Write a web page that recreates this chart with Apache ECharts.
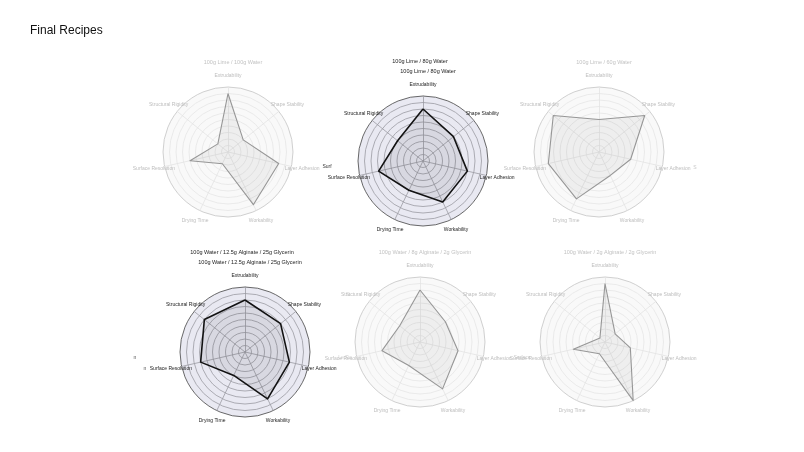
<!DOCTYPE html>
<html>
<head>
<meta charset="utf-8">
<script src="https://cdn.jsdelivr.net/npm/echarts@6/dist/echarts.min.js"></script>
<style>html,body{margin:0;padding:0;background:#fff}#c{width:804px;height:452px}</style>
</head>
<body>
<div id="c"></div>
<script>
// Axis categories, clockwise from the top
const indicatorsCW = ['Extrudability','Shape Stability','Layer Adhesion','Workability','Drying Time','Surface Resolution','Structural Rigidity'];
const maxValue = 10;
const recipeTitles = [
  '100g Lime / 100g Water',
  '100g Lime / 80g Water',
  '100g Lime / 60g Water',
  '100g Water / 12.5g Alginate / 25g Glycerin',
  '100g Water / 8g Alginate / 2g Glycerin',
  '100g Water / 2g Alginate / 2g Glycerin'
];
// values in clockwise indicator order
const lime100Water100 = [9,3,8,9,2,6,2];
const lime100Water80  = [8,6,7,7,5,7,5];
const lime100Water60  = [5,9,5,4,8,8,9];
const alg125Gly25     = [8,7,7,8,4,7,8];
const alg8Gly2        = [8,5,6,8,4,6,4];
const alg2Gly2        = [9,2,4,10,2,5,1];

const allValues = [lime100Water100, lime100Water80, lime100Water60, alg125Gly25, alg8Gly2, alg2Gly2];
const highlighted = [false, true, false, true, false, false];
const centers = [[228,152],[423,161],[599,152],[245,352],[420,342],[605,342]];
const radius = 65;

// ECharts lays indicators counterclockwise; reorder to show them clockwise
function toCCW(arr){ return [arr[0]].concat(arr.slice(1).reverse()); }

const font = 'Liberation Sans, Arial, sans-serif';
const radars = [], series = [], titles = [];
titles.push({text:'Final Recipes', left:25, top:20, padding:5, textStyle:{fontSize:12, fontWeight:'normal', color:'#111', fontFamily:font}});

allValues.forEach((vals, i) => {
  const hi = highlighted[i];
  const c = centers[i];
  const ringColors = [];
  for (let k = 0; k <= 10; k++) ringColors.push(k === 10 ? (hi ? '#444' : '#c4c4c4') : (hi ? '#9a9aa2' : '#e6e6e6'));
  radars.push({
    center:[c[0], c[1]], radius: radius, shape:'circle', splitNumber:10,
    startAngle:90,
    indicator: toCCW(indicatorsCW).map(n => ({name:n, max:maxValue, min:0})),
    nameGap: 11,
    axisName:{color: hi ? '#222' : '#bdbdbd', fontSize:5, fontFamily:font, align:'center', verticalAlign:'middle'},
    splitLine:{lineStyle:{color: ringColors, width:[0.8]}},
    splitArea:{show:true, areaStyle:{color: hi ? ['#e9e9f2'] : ['#f9f9f9']}},
    axisLine:{lineStyle:{color: hi ? '#9a9aa2' : '#e3e3e3', width:0.8}},
    axisTick:{show:false}, axisLabel:{show:false}
  });
  series.push({
    type:'radar', radarIndex:i, symbol:'none', silent:true,
    lineStyle:{color: hi ? '#111' : '#9a9a9a', width: hi ? 1.6 : 1.1},
    areaStyle:{color: hi ? 'rgba(60,60,70,0.14)' : 'rgba(0,0,0,0.06)'},
    data:[{value: toCCW(vals), name: recipeTitles[i]}]
  });
  if (hi) {
    titles.push({text: recipeTitles[i], left: c[0]-8, top: c[1]-108, textAlign:'center', textStyle:{fontSize:5.5, fontWeight:'normal', color:'#222', fontFamily:font}});
    titles.push({text: recipeTitles[i], left: c[0], top: c[1]-98, textAlign:'center', textStyle:{fontSize:5.5, fontWeight:'normal', color:'#222', fontFamily:font}});
  } else {
    titles.push({text: recipeTitles[i], left: c[0], top: c[1]-98, textAlign:'center', textStyle:{fontSize:5.5, fontWeight:'normal', color:'#c2c2c2', fontFamily:font}});
  }
});

const strayTexts = [
  {t:'Surf', x:327, y:167, col:'#333'},
  {t:'S', x:695, y:168, col:'#c8c8c8'},
  {t:'n', x:135, y:358, col:'#555'},
  {t:'n', x:145, y:369, col:'#555'},
  {t:'St', x:348, y:295, col:'#d0d0d0'},
  {t:'Le Ro', x:345, y:358, col:'#d0d0d0'},
  {t:'Surface', x:522, y:358, col:'#c8c8c8'}
];

const chart = echarts.init(document.getElementById('c'), null, {renderer:'canvas'});
chart.setOption({
  backgroundColor:'#fff',
  animation:false,
  title: titles,
  radar: radars,
  series: series,
  graphic: strayTexts.map(s => ({type:'text', x:s.x, y:s.y, style:{text:s.t, fill:s.col, fontSize:5, fontFamily:font, align:'center', verticalAlign:'middle'}}))
});
</script>
</body>
</html>
